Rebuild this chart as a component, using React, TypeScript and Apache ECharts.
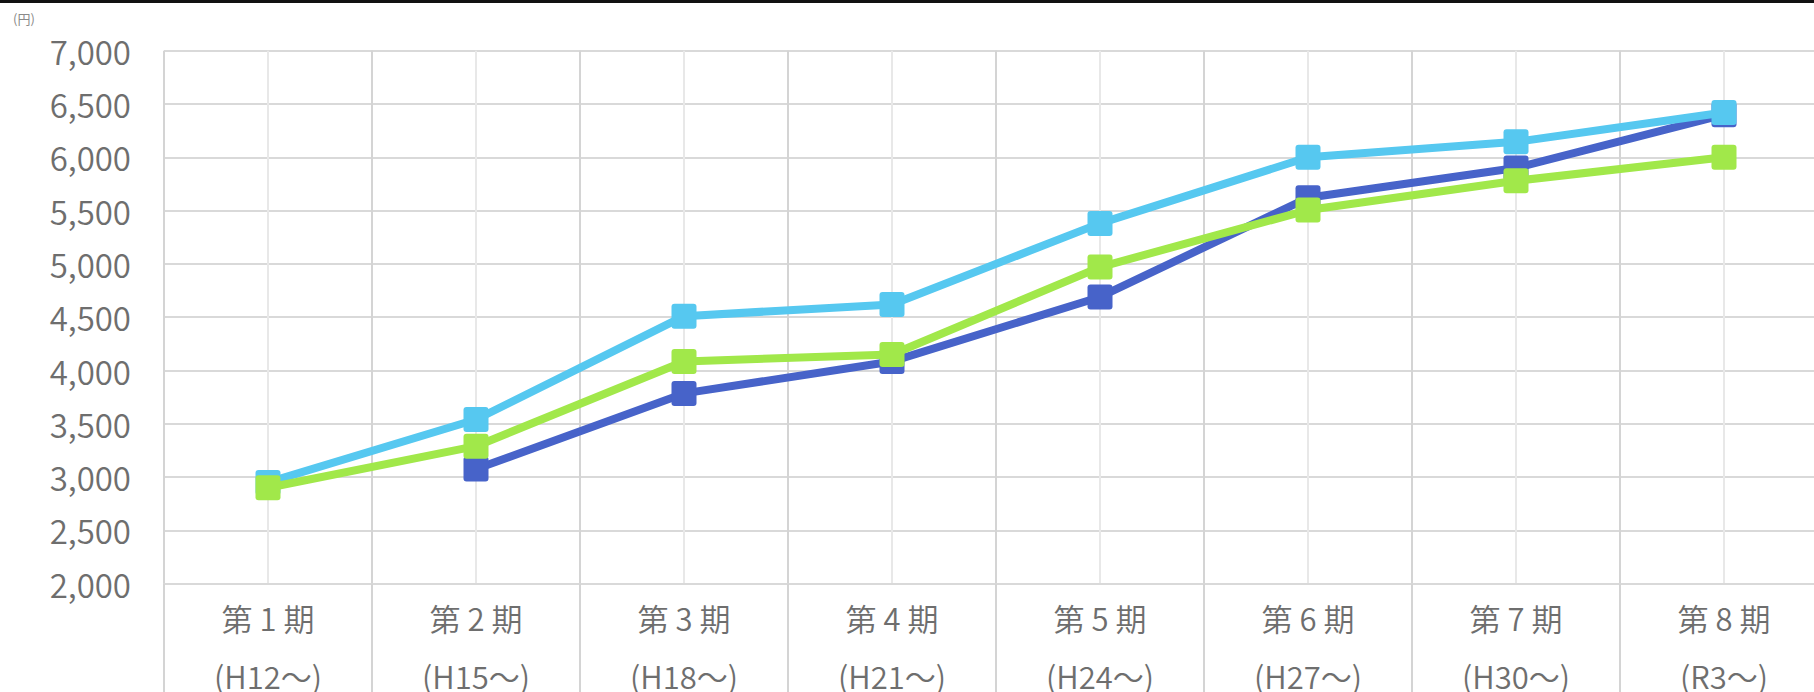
import React, { useEffect, useRef } from "react";
import * as echarts from "echarts";

// Periods (category axis) and unit label
const periods = ["第 1 期", "第 2 期", "第 3 期", "第 4 期", "第 5 期", "第 6 期", "第 7 期", "第 8 期"];
const eraLabels = ["(H12～)", "(H15～)", "(H18～)", "(H21～)", "(H24～)", "(H27～)", "(H30～)", "(R3～)"];
const unitLabel = "(円)";

// Y axis range
const yMin = 2000;
const yMax = 7000;
const yStep = 500;

// Monthly premium series (円)
const darkBlueValues: (number | null)[] = [null, 3075, 3785, 4085, 4690, 5620, 5900, 6400];
const lightBlueValues: (number | null)[] = [2950, 3540, 4510, 4620, 5380, 6000, 6145, 6420];
const greenValues: (number | null)[] = [2900, 3290, 4085, 4150, 4970, 5505, 5780, 6000];

const FONT = '"Noto Sans CJK JP", "Noto Sans", sans-serif';
const LABEL_COLOR = "#6e6e6e";

// square marker with slightly rounded corners
const MARKER = "path://M3,0 H22 Q25,0 25,3 V22 Q25,25 22,25 H3 Q0,25 0,22 V3 Q0,0 3,0 Z";

export default function App() {
  const ref = useRef<HTMLDivElement>(null);

  useEffect(() => {
    if (!ref.current) return;
    const chart = echarts.init(ref.current, undefined, { renderer: "svg" });

    const makeSeries = (name: string, data: (number | null)[], color: string, z: number) => ({
      name,
      type: "line",
      data,
      xAxisIndex: 0,
      yAxisIndex: 0,
      z,
      symbol: MARKER,
      symbolSize: 25,
      showAllSymbol: true,
      lineStyle: { color, width: 8 },
      itemStyle: { color, borderWidth: 0 },
      emphasis: { disabled: true },
    });

    chart.setOption({
      animation: false,
      backgroundColor: "#ffffff",
      textStyle: { fontFamily: FONT },
      grid: {
        left: 164,
        right: 12,
        top: 50.7,
        bottom: 108.3,
        containLabel: false,
        outerBoundsMode: "none",
      },
      xAxis: [
        {
          type: "category",
          data: periods.map((p, i) => p + "\n" + eraLabels[i]),
          boundaryGap: true,
          axisLine: { show: true, lineStyle: { color: "#d9d9d9", width: 2 } },
          axisTick: { show: true, length: 120, lineStyle: { color: "#d4d4d4", width: 2 } },
          splitLine: { show: true, lineStyle: { color: "#d4d4d4", width: 2 } },
          axisLabel: {
            color: LABEL_COLOR,
            fontSize: 31,
            fontFamily: FONT,
            fontWeight: 350,
            lineHeight: 58,
            margin: 5,
            interval: 0,
          },
        },
        {
          // helper axis that provides the lighter lines at category centres
          type: "value",
          min: 0,
          max: periods.length,
          interval: 1,
          position: "bottom",
          axisLine: { show: false },
          axisTick: { show: false },
          axisLabel: { show: false },
          splitLine: { show: false },
          minorTick: { show: false, splitNumber: 2 },
          minorSplitLine: { show: true, lineStyle: { color: "#e8e8e8", width: 2 } },
        },
      ],
      yAxis: {
        type: "value",
        min: yMin,
        max: yMax,
        interval: yStep,
        axisLine: { show: false },
        axisTick: { show: false },
        splitLine: { show: true, lineStyle: { color: "#d9d9d9", width: 2 } },
        axisLabel: {
          color: LABEL_COLOR,
          fontSize: 33,
          fontFamily: FONT,
          fontWeight: 350,
          margin: 33,
          formatter: (v: number) => v.toLocaleString("en-US"),
        },
      },
      graphic: [
        {
          type: "rect",
          left: 0,
          top: 0,
          shape: { width: 1840, height: 3 },
          style: { fill: "#111111" },
        },
        {
          type: "text",
          left: 13,
          top: 12,
          style: { text: unitLabel, fontSize: 13, fill: "#8a8a8a", fontFamily: FONT },
        },
      ],
      series: [
        makeSeries("darkBlue", darkBlueValues, "#4763c9", 2),
        makeSeries("lightBlue", lightBlueValues, "#56c8f0", 3),
        makeSeries("green", greenValues, "#a1e84a", 4),
      ],
    });

    return () => chart.dispose();
  }, []);

  return (
    <div style={{ position: "absolute", left: 0, top: 0, width: 1814, height: 692, overflow: "hidden", background: "#fff" }}>
      <div ref={ref} style={{ width: 1840, height: 692 }} />
    </div>
  );
}
